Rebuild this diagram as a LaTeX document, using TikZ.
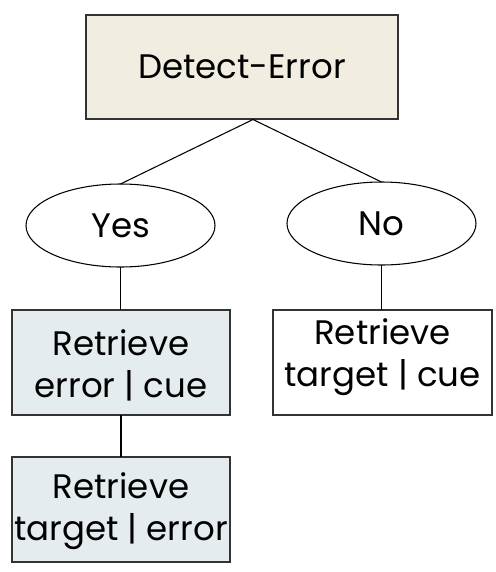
\documentclass[tikz,border=0pt]{standalone}
\usepackage{fontspec}
\setmainfont{Poppins}
\usetikzlibrary{shapes.geometric}
\definecolor{beige}{HTML}{F1EDE0}
\definecolor{paleblue}{HTML}{E4ECEF}
\definecolor{edge}{HTML}{333333}
\begin{document}
\begin{tikzpicture}[x=0.75pt,y=-0.75pt,
  every node/.style={font=\fontsize{25.5}{31.5}\selectfont, inner sep=0pt, outer sep=0pt, align=center},
  box/.style={draw=edge, line width=1pt, rectangle, minimum width={#1*0.75pt}, minimum height={105*0.75pt}},
  oval/.style={draw=black, line width=0.8pt, ellipse, minimum width={189*0.75pt}, minimum height={83*0.75pt}},
  link/.style={draw=black, line width=0.8pt}]
\useasboundingbox (0,0) rectangle (496,572);
\node[box=312, fill=beige, minimum height={104*0.75pt}] (top) at (242,67) {Detect-Error};
\node[oval] (yes) at (120.5,225.5) {Yes};
\node[oval] (no) at (381.5,223.5) {No};
\node[box=218, fill=paleblue] (b1) at (121,362.5) {};
\node at (121,365.5) {Retrieve\\error | cue};
\node[box=219, fill=white] (b2) at (382.5,362.5) {};
\node at (382.5,357.5) {Retrieve\\target | cue};
\node[box=218, fill=paleblue] (b3) at (121,509.5) {};
\node at (121,511.5) {Retrieve\\target | error};
\coordinate (apex) at (253,119.5);
\draw[link] (apex) -- (yes.north);
\draw[link] (apex) -- (no.north);
\draw[link] (yes.south) -- (yes.south |- b1.north);
\draw[link] (no.south) -- (no.south |- b2.north);
\draw[link] (b1.south) -- (b3.north);
\end{tikzpicture}
\end{document}
